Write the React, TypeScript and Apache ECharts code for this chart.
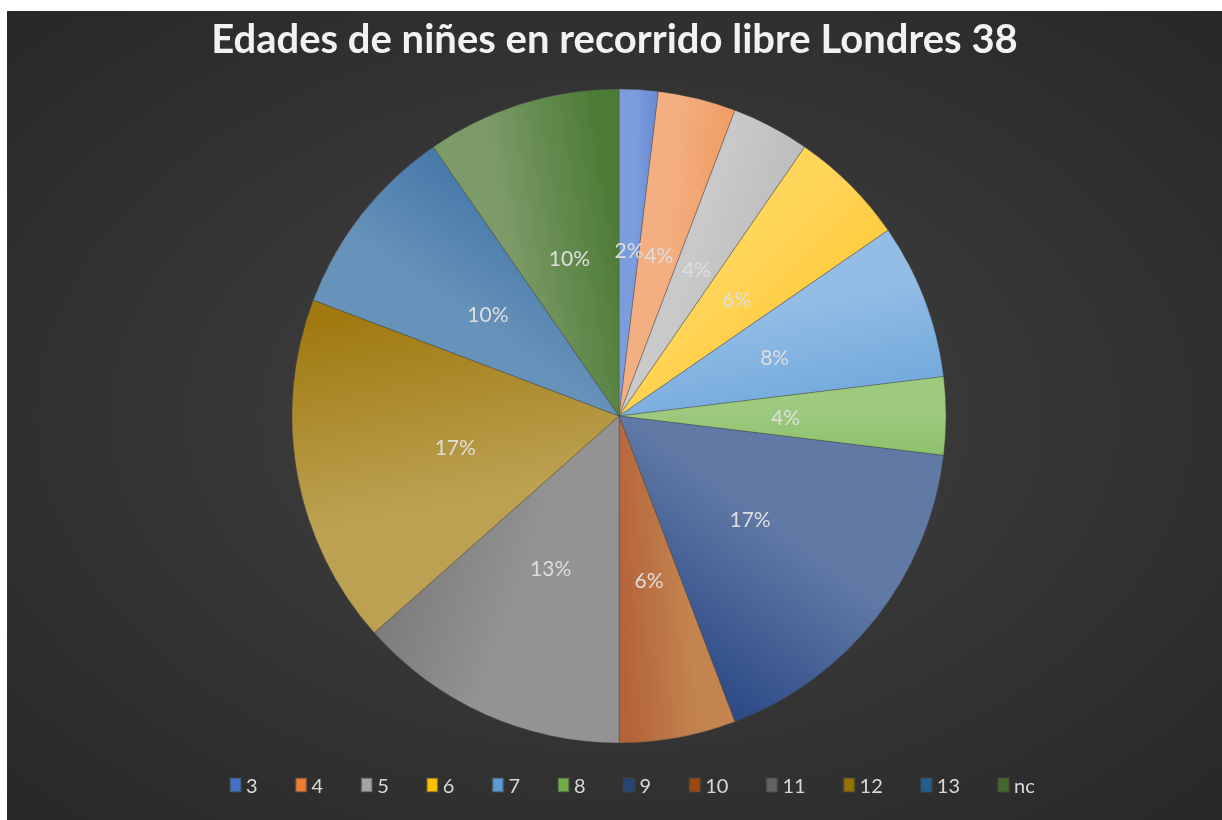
import React, { useEffect, useRef } from "react";
import * as echarts from "echarts";

const TITLE = "Edades de niñes en recorrido libre Londres 38";
const categories = ["3", "4", "5", "6", "7", "8", "9", "10", "11", "12", "13", "nc"];
const counts = [1, 2, 2, 3, 4, 2, 9, 3, 7, 9, 5, 5];
const baseColors = ["#4472C4", "#ED7D31", "#A5A5A5", "#FFC000", "#5B9BD5", "#70AD47", "#264478", "#9E480E", "#636363", "#997300", "#255E91", "#43682B"];
const lightColors = ["#7C9DDD", "#F3AF82", "#C9C9C9", "#FFD55A", "#93BDE5", "#9ECA80", "#6079A5", "#C3844F", "#939393", "#BCA152", "#6792B9", "#7D9B69"];
const darkColors = ["#6688D2", "#F0975A", "#B5B5B5", "#FFC52A", "#70A8DC", "#8CC16B", "#2A4785", "#B3633A", "#767676", "#A07A10", "#376DA2", "#4C7B35"];

const FONT = "Lato, 'Open Sans', sans-serif";

export default function App() {
  const ref = useRef<HTMLDivElement>(null);
  useEffect(() => {
    if (!ref.current) return;
    const chart = echarts.init(ref.current, null, { renderer: "svg" });
    const total = counts.reduce((a, b) => a + b, 0);
    let cum = 0;
    const data = categories.map((name, i) => {
      const v = counts[i];
      const theta = (2 * Math.PI * (cum + v / 2)) / total;
      cum += v;
      const c = Math.cos(theta);
      const s = Math.sin(theta);
      return {
        name,
        value: v,
        itemStyle: {
          color: {
            type: "linear",
            x: 0.5 - 0.5 * c,
            y: 0.5 - 0.5 * s,
            x2: 0.5 + 0.5 * c,
            y2: 0.5 + 0.5 * s,
            colorStops: [
              { offset: 0, color: lightColors[i] },
              { offset: 0.4, color: lightColors[i] },
              { offset: 1, color: darkColors[i] },
            ],
          },
        },
      };
    });
    chart.setOption({
      animation: false,
      backgroundColor: {
        type: "radial",
        x: 0.5,
        y: 0.5,
        r: 0.75,
        colorStops: [
          { offset: 0, color: "#434343" },
          { offset: 1, color: "#262626" },
        ],
      },
      title: {
        text: TITLE,
        left: "center",
        top: 2,
        textStyle: { color: "#F2F2F2", fontSize: 40, fontWeight: "bold", fontFamily: FONT },
      },
      legend: {
        left: 217,
        top: 759,
        itemWidth: 11,
        itemHeight: 14,
        itemGap: 37,
        icon: "rect",
        textStyle: { color: "#D9D9D9", fontSize: 20, fontFamily: FONT },
        data: categories.map((name, i) => ({ name, itemStyle: { color: baseColors[i] } })),
      },
      series: [
        {
          type: "pie",
          center: [612, 405],
          radius: 327,
          startAngle: 90,
          clockwise: true,
          data,
          label: {
            show: true,
            position: "inside",
            formatter: (p: any) => Math.round(p.percent) + "%",
            color: "#DEDEDE",
            fontSize: 21,
            fontFamily: FONT,
          },
          labelLine: { show: false },
          itemStyle: { borderColor: "rgba(70,70,70,0.5)", borderWidth: 0.75 },
          emphasis: { disabled: true },
        },
      ],
    });
    return () => chart.dispose();
  }, []);
  return (
    <div
      ref={ref}
      style={{ position: "fixed", left: 7, top: 11, width: 1215, height: 809 }}
    />
  );
}
